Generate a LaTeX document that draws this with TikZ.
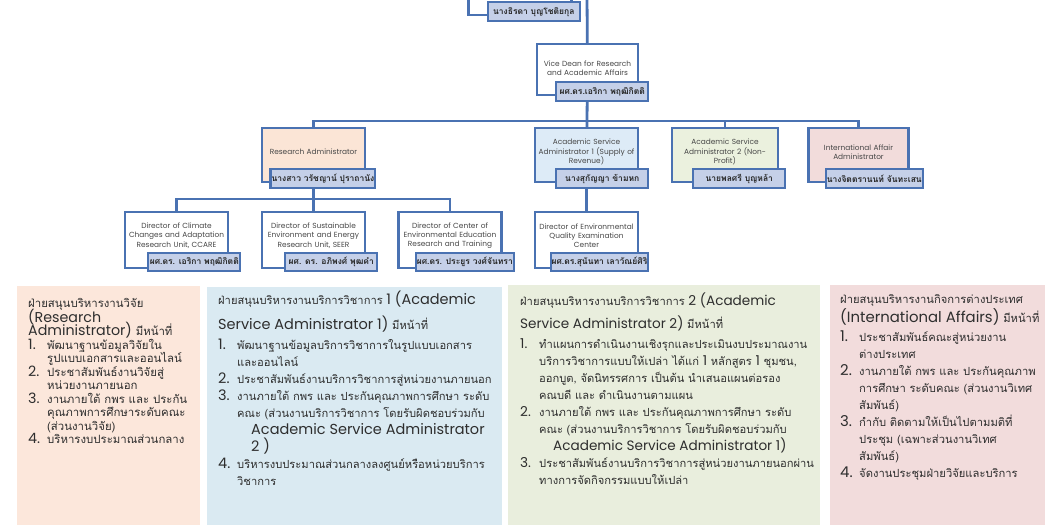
\documentclass[tikz,border=0pt]{standalone}
\usepackage{fontspec}
\setmainfont{Loma}[Script=Thai]
\newfontfamily\enA{Poppins}[Scale=1.25]
\newfontfamily\enB{Poppins}[Scale=1.3]
\newfontfamily\enC{Poppins}[Scale=1.22]
\newfontfamily\enD{Poppins}[Scale=1.33]
\newfontfamily\enbox{Poppins}
\usetikzlibrary{positioning,backgrounds}

\definecolor{orgblue}{HTML}{4A72B2}
\definecolor{tagfill}{HTML}{C5D0E8}
\definecolor{rafill}{HTML}{FBE5D6}
\definecolor{asaonefill}{HTML}{DDEBF7}
\definecolor{asatwofill}{HTML}{EBF1DE}
\definecolor{iafill}{HTML}{F2DCDB}
\definecolor{rapanel}{HTML}{FCE7DB}
\definecolor{asaonepanel}{HTML}{DAEAF2}
\definecolor{asatwopanel}{HTML}{E9EEDD}
\definecolor{iapanel}{HTML}{F2DCDC}

\setlength{\lineskiplimit}{-20pt}
\newcommand\en{\enB}
\newcommand\itm[1]{\makebox[19pt][l]{\en #1}}
\newcommand\ind{\hspace*{19pt}}
\newcommand\latind{\hspace*{33pt}}
\newcommand\panelfontA{\fontsize{11.4}{13.5}\selectfont\let\en\enA}
\newcommand\panelfontB{\fontsize{11.15}{17}\selectfont\let\en\enB}
\newcommand\panelfontC{\fontsize{11.15}{17}\selectfont\let\en\enC}
\newcommand\panelfontD{\fontsize{11.2}{16.9}\selectfont\let\en\enD}

\begin{document}
\begin{tikzpicture}[x=1pt,y=-1pt]
	\tikzset{
		unitbox/.style={draw=orgblue, line width=2.8pt, fill=white, minimum width=103pt, minimum height=54pt,
			text width=98pt, align=center, inner sep=1pt, text=black!72, font=\enbox\fontsize{7.4}{9.2}\selectfont},
		textup/.style={execute at end node={\par\vspace*{#1}}},
		nametag/.style={draw=orgblue, line width=2.2pt, fill=tagfill, minimum width=92pt, minimum height=19pt,
			inner sep=1pt, anchor=south east, text=black!85, font=\bfseries\fontsize{8.5}{10}\selectfont},
		link/.style={draw=orgblue, line width=2.8pt},
		panel/.style={anchor=north west, minimum height=245pt, inner sep=0pt},
		paneltext/.style={anchor=north west, align=left, inner sep=0pt, text=black!82}
	}
	\useasboundingbox (0,0) rectangle (1050,525);

	% chart boxes
	\node[unitbox, minimum height=55pt] (top) at (520,-12.5) {};
	\node[nametag] (toptag) at ([xshift=8pt,yshift=-6pt]top.south east) {นางธิรดา บุญโชติยกุล};

	\node[unitbox, minimum width=101pt, minimum height=51pt, textup=3pt] (vd) at (587.5,69.5) {Vice Dean for Research\\and Academic Affairs};
	\node[nametag] (vdtag) at ([xshift=10pt,yshift=-6pt]vd.south east) {ผศ.ดร.เอริกา พฤฒิกิตติ};

	\node[unitbox, fill=rafill, textup=6pt] (ra) at (313.5,155) {Research Administrator};
	\node[nametag] (ratag) at ([xshift=10pt,yshift=-6pt]ra.south east) {นางสาว วรัชญาน์ ปุราถานัง};
	\node[unitbox, fill=asaonefill, textup=6pt] (asa1) at (586.5,155) {Academic Service\\Administrator 1 (Supply of\\Revenue)};
	\node[nametag] (asa1tag) at ([xshift=10pt,yshift=-6pt]asa1.south east) {นางสุกัญญา ข้ามหก};
	\node[unitbox, fill=asatwofill, minimum width=106pt, textup=6pt] (asa2) at (725,155) {Academic Service\\Administrator 2 (Non-\\Profit)};
	\node[nametag] (asa2tag) at ([xshift=7pt,yshift=-6pt]asa2.south east) {นายพลศรี บุญหล้า};
	\node[unitbox, fill=iafill, minimum width=99pt, textup=6pt] (ia) at (858.5,155) {International Affair\\Administrator};
	\node[nametag] (iatag) at ([xshift=14pt,yshift=-6pt]ia.south east) {นางจิตตรานนท์ จันทะเสน};

	\node[unitbox, minimum height=56pt, textup=9pt] (ccare) at (176.5,240) {Director of Climate\\Changes and Adaptation\\Research Unit, CCARE};
	\node[nametag, minimum height=18pt] (ccaretag) at ([xshift=12pt,yshift=-3pt]ccare.south east) {ผศ.ดร. เอริกา พฤฒิกิตติ};
	\node[unitbox, minimum height=56pt, textup=9pt] (seer) at (313.5,240) {Director of Sustainable\\Environment and Energy\\Research Unit, SEER};
	\node[nametag, minimum height=18pt] (seertag) at ([xshift=12pt,yshift=-3pt]seer.south east) {ผศ. ดร. อภิพงศ์ พุฒคำ};
	\node[unitbox, minimum height=56pt, textup=9pt] (ceer) at (450,240) {Director of Center of\\Environmental Education\\Research and Training};
	\node[nametag, minimum height=18pt] (ceertag) at ([xshift=12pt,yshift=-3pt]ceer.south east) {ผศ.ดร. ประยูร วงศ์จันทรา};
	\node[unitbox, minimum height=56pt, textup=9pt] (eqec) at (586.5,240) {Director of Environmental\\Quality Examination\\Center};
	\node[nametag, minimum height=18pt] (eqectag) at ([xshift=10pt,yshift=-3pt]eqec.south east) {ผศ.ดร.สุนันทา เลาวัณย์ศิริ};

	% connectors
	\coordinate (dean) at (587,-5);
	\coordinate (busA) at (587,121);
	\coordinate (busB) at (313.5,199);
	\begin{scope}[on background layer]
		\draw[link] (dean) -- (vd.center);
		\draw[link] (vd.center) -- (busA);
		\draw[link] (ra.center) |- (busA) -| (ia.center);
		\draw[link] (busA) -- (asa1.center);
		\draw[link] (asa2.center) -- (asa2.center |- busA);
		\draw[link] (ra.center) -- (busB);
		\draw[link] (ccare.center) |- (busB) -| (ceer.center);
		\draw[link] (seer.center) -- (seer.center |- busB);
		\draw[link] (asa1.center) -- (eqec.center);
	\end{scope}

	% duty panels
	\node[panel, fill=rapanel, minimum width=183pt] (p1) at (17,286) {};
	\node[panel, fill=asaonepanel, minimum width=295pt] (p2) at (207,287) {};
	\node[panel, fill=asatwopanel, minimum width=312pt] (p3) at (508,285) {};
	\node[panel, fill=iapanel, minimum width=215pt] (p4) at (830,285) {};

	\node[paneltext, font=\panelfontA] (t1) at ([xshift=11pt,yshift=-12pt]p1.north west) {%
		ฝ่ายสนุนบริหารงานวิจัย\\[1.5pt]
		{\en (Research}\\
		{\en Administrator)} มีหน้าที่\\
		\itm{1.}พัฒนาฐานข้อมูลวิจัยใน\\
		\ind รูปแบบเอกสารและออนไลน์\\
		\itm{2.}ประชาสัมพันธ์งานวิจัยสู่\\
		\ind หน่วยงานภายนอก\\
		\itm{3.}งานภายใต้ กพร และ ประกัน\\
		\ind คุณภาพการศึกษาระดับคณะ\\
		\ind (ส่วนงานวิจัย)\\
		\itm{4.}บริหารงบประมาณส่วนกลาง};

	\node[paneltext, font=\panelfontB] (t2) at ([xshift=11pt,yshift=-4pt]p2.north west) {%
		ฝ่ายสนุนบริหารงานบริการวิชาการ {\en 1 (Academic}\\[8pt]
		{\en Service Administrator 1)} มีหน้าที่\\[3pt]
		\itm{1.}พัฒนาฐานข้อมูลบริการวิชาการในรูปแบบเอกสาร\\
		\ind และออนไลน์\\
		\itm{2.}ประชาสัมพันธ์งานบริการวิชาการสู่หน่วยงานภายนอก\\
		\itm{3.}งานภายใต้ กพร และ ประกันคุณภาพการศึกษา ระดับ\\
		\ind คณะ (ส่วนงานบริการวิชาการ โดยรับผิดชอบร่วมกับ\\
		\latind{\en Academic Service Administrator}\\
		\latind{\en 2 )}\\
		\itm{4.}บริหารงบประมาณส่วนกลางลงศูนย์หรือหน่วยบริการ\\
		\ind วิชาการ};

	\node[paneltext, font=\panelfontC] (t3) at ([xshift=12pt,yshift=-8pt]p3.north west) {%
		ฝ่ายสนุนบริหารงานบริการวิชาการ {\en 2 (Academic}\\[6pt]
		{\en Service Administrator 2)} มีหน้าที่\\[3pt]
		\itm{1.}ทำแผนการดำเนินงานเชิงรุกและประเมินงบประมาณงาน\\
		\ind บริการวิชาการแบบให้เปล่า ได้แก่ {\en 1} หลักสูตร {\en 1} ชุมชน,\\
		\ind ออกบูต, จัดนิทรรศการ เป็นต้น นำเสนอแผนต่อรอง\\
		\ind คณบดี และ ดำเนินงานตามแผน\\
		\itm{2.}งานภายใต้ กพร และ ประกันคุณภาพการศึกษา ระดับ\\
		\ind คณะ (ส่วนงานบริการวิชาการ โดยรับผิดชอบร่วมกับ\\
		\latind{\en Academic Service Administrator 1)}\\
		\itm{3.}ประชาสัมพันธ์งานบริการวิชาการสู่หน่วยงานภายนอกผ่าน\\
		\ind ทางการจัดกิจกรรมแบบให้เปล่า};

	\node[paneltext, font=\panelfontD] (t4) at ([xshift=10pt,yshift=-9pt]p4.north west) {%
		ฝ่ายสนุนบริหารงานกิจการต่างประเทศ\\[2pt]
		{\en (International Affairs)} มีหน้าที่\\[3pt]
		\itm{1.}ประชาสัมพันธ์คณะสู่หน่วยงาน\\
		\ind ต่างประเทศ\\
		\itm{2.}งานภายใต้ กพร และ ประกันคุณภาพ\\
		\ind การศึกษา ระดับคณะ (ส่วนงานวิเทศ\\
		\ind สัมพันธ์)\\
		\itm{3.}กำกับ ติดตามให้เป็นไปตามมติที่\\
		\ind ประชุม (เฉพาะส่วนงานวิเทศ\\
		\ind สัมพันธ์)\\
		\itm{4.}จัดงานประชุมฝ่ายวิจัยและบริการ};
\end{tikzpicture}
\end{document}
